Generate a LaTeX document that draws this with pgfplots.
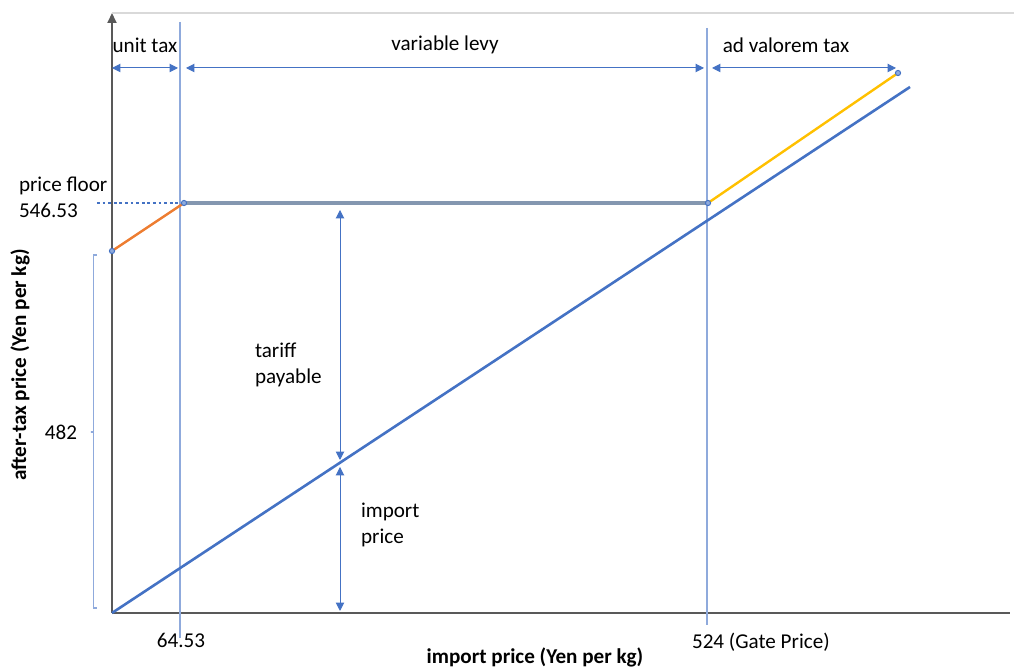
\documentclass[border=0pt]{standalone}
\usepackage{pgfplots}
\pgfplotsset{compat=1.18}
\usepackage{fontspec}
\setmainfont{Carlito}
\usetikzlibrary{arrows.meta}

\definecolor{xlblue}{HTML}{4472C4}
\definecolor{xlorange}{HTML}{ED7D31}
\definecolor{xlyellow}{HTML}{FFC000}
\definecolor{xlgray}{HTML}{8497B0}
\definecolor{guide}{HTML}{8FAADC}
\definecolor{axisgray}{HTML}{595959}
\definecolor{framegray}{HTML}{D9D9D9}

\tikzset{
  tip/.tip={Triangle[width=4.2bp,length=4.2bp]},
  dbl/.style={tip-tip, xlblue, line width=0.5bp},
}

\begin{document}
\begin{tikzpicture}
\begin{axis}[
    width=449bp, height=300bp, scale only axis,
    xmin=0, xmax=898, ymin=0, ymax=600,
    axis x line=bottom, axis y line=left,
    axis line style={draw=axisgray, line width=0.9bp},
    x axis line style={-},
    y axis line style={-{Triangle[width=4.5bp,length=5bp]}},
    xtick=\empty, ytick=\empty,
    clip=false,
    font=\fontsize{10.6}{13}\selectfont,
]
% frame line at top
\addplot[framegray, line width=0.6bp] coordinates {(0,600) (902,600)};
% guide lines at 64.53 and 524
\addplot[guide, line width=0.7bp] coordinates {(68,591) (68,-25)};
\addplot[guide, line width=0.7bp] coordinates {(595,585) (595,-12)};
% import price (schematic)
\addplot[xlblue, line width=1.3bp] coordinates {(0,0) (798,526)};
% after-tax price: unit tax, price floor, ad valorem tax
\addplot[xlorange, line width=1.2bp] coordinates {(0,362) (72,410)};
\addplot[xlgray, line width=1.6bp] coordinates {(72,410) (596,410)};
\addplot[xlyellow, line width=1.2bp] coordinates {(596,410) (786,540)};
\addplot[only marks, mark=*, mark size=1.3bp,
         mark options={draw=xlblue, fill=guide, line width=0.5bp}]
    coordinates {(0,362) (72,410) (596,410) (786,540)};
% price floor dotted
\addplot[xlblue, line width=1bp, dash pattern=on 1.4bp off 1.4bp]
    coordinates {(-15,410) (72,410)};
% bracket beside 482
\addplot[guide, line width=0.7bp] coordinates
    {(-15,358) (-18.5,358) (-18.5,181) (-21,181) (-18.5,181) (-18.5,5) (-15,5)};
% range arrows at top
\addplot[dbl] coordinates {(0,545) (66,545)};
\addplot[dbl] coordinates {(74,545) (592,545)};
\addplot[dbl] coordinates {(600,545) (784,545)};
% vertical arrows
\addplot[dbl] coordinates {(228,403) (228,153)};
\addplot[dbl] coordinates {(228,146) (228,2)};

\node at (axis cs:33,568) {unit tax};
\node at (axis cs:333,568) {variable levy};
\node at (axis cs:674,568) {ad valorem tax};
\node[anchor=west, align=left] at (axis cs:-100,416) {price floor\\546.53};
\node at (axis cs:-51,181) {482};
\node[anchor=west, align=left] at (axis cs:136,248) {tariff\\payable};
\node[anchor=west, align=left] at (axis cs:242,88) {import\\price};
\node at (axis cs:69,-27) {64.53};
\node[anchor=west] at (axis cs:573,-29) {524 (Gate Price)};
\node[font=\fontsize{10.6}{12}\selectfont\bfseries] at (axis cs:423,-44) {import price (Yen per kg)};
\node[font=\fontsize{10.6}{12}\selectfont\bfseries, rotate=90] at (axis cs:-92,248) {after-tax price (Yen per kg)};

\coordinate (bbll) at (axis cs:-112,-54);
\coordinate (bbur) at (axis cs:902,613);
\end{axis}
\pgfresetboundingbox
\path (bbll) rectangle (bbur);
\end{tikzpicture}
\end{document}
